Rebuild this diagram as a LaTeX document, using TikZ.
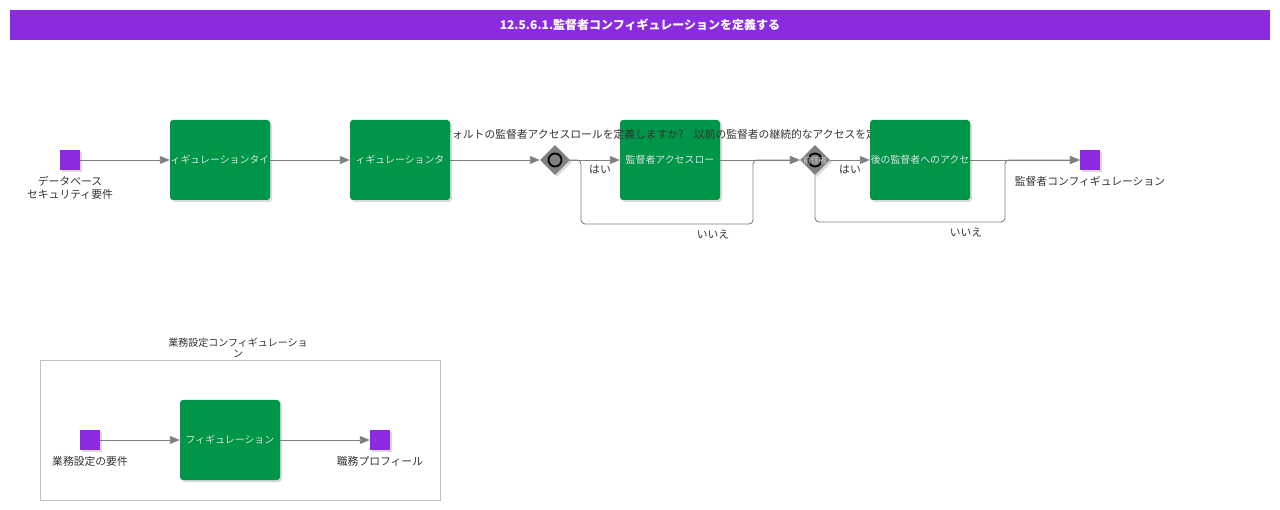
\documentclass[tikz,border=0pt]{standalone}
\usepackage{fontspec}
\setmainfont{Noto Sans CJK JP}
\usetikzlibrary{shapes.geometric,arrows.meta,shadows}

\definecolor{evpurple}{RGB}{138,43,226}
\definecolor{taskgreen}{RGB}{0,150,73}
\definecolor{flowgrey}{RGB}{128,128,128}
\definecolor{labelgrey}{RGB}{51,51,51}

\tikzset{
	boxshadow/.style={drop shadow={shadow xshift=2pt, shadow yshift=-2pt, opacity=0.3}},
	task/.style={rectangle, rounded corners=3pt, fill=taskgreen, minimum width=100pt, minimum height=80pt, inner sep=0pt, text=white!88!black, font=\fontsize{9.9}{12}\selectfont, boxshadow},
	event/.style={rectangle, fill=evpurple, minimum size=20pt, inner sep=0pt, boxshadow},
	gateway/.style={diamond, fill=flowgrey, minimum width=30pt, minimum height=30pt, inner sep=0pt, boxshadow},
	lbl/.style={text=labelgrey, inner sep=0pt, align=center, font=\fontsize{10.8}{13}\selectfont},
	flow/.style={draw=flowgrey, line width=0.9pt, rounded corners=4pt, -{Triangle[length=10pt,width=8pt]}},
}

\begin{document}
\begin{tikzpicture}[x=1pt, y=-1pt]
			%%%%% START %%%%%
			\useasboundingbox (0,0) rectangle (1280,510);
			
			\node[fill=evpurple, minimum width=1260pt, minimum height=30pt, inner sep=0pt, text=white, font=\bfseries\fontsize{12}{14}\selectfont] (title) at (640,25) {12.5.6.1.監督者コンフィギュレーションを定義する};
			
			\node[event] (start) at (70,160) {};
			\node[lbl] (startlbl) at (70,188) {データベース\\セキュリティ要件};
			
			\node[task] (t1) at (220,160) {ィギュレーションタイ};
			\node[task] (t3) at (670,160) {監督者アクセスロー};
			
			\node[lbl] (q1) at (557,134) {デフォルトの監督者アクセスロールを定義しますか?};
			\node[lbl] (q2) at (815,134) {以前の監督者の継続的なアクセスを定義しますか?};
			
			\node[task] (t2) at (400,160) {ィギュレーションタ};
			\node[task] (t4) at (920,160) {後の監督者へのアクセ};
			
			\node[gateway] (gw1) at (555,160) {};
			\draw[line width=1.8pt] (gw1) circle (6.5);
			\node[gateway] (gw2) at (815,160) {};
			\draw[line width=1.8pt] (gw2) circle (6.5);
			\node[text=white!80!black, inner sep=0pt, font=\fontsize{8}{9}\selectfont] (gw2txt) at (gw2) {前任者};
			
			\node[event] (end) at (1090,160) {};
			\node[lbl] (endlbl) at (1090,181) {監督者コンフィギュレーション};
			
			\draw[flow] (start) -- (t1);
			\draw[flow] (t1) -- (t2);
			\draw[flow] (t2) -- (gw1);
			\draw[flow] (gw1) -- (t3);
			\draw[flow] (gw1.east) -- (581,160) -- (581,224) -- (753,224) -- (753,160) -- (gw2.west);
			\draw[flow] (t3) -- (gw2);
			\draw[flow] (gw2) -- (t4);
			\draw[flow] (gw2.south) -- (815,222) -- (1005,222) -- (1005,160) -- (end.west);
			\draw[flow] (t4) -- (end);
			
			\node[lbl] (yes1) at (600,170) {はい};
			\node[lbl] (no1) at (713,234) {いいえ};
			\node[lbl] (yes2) at (850,170) {はい};
			\node[lbl] (no2) at (966,232) {いいえ};
			
			%%%%% GROUP %%%%%
			\node[draw=black!25, minimum width=400pt, minimum height=140pt, inner sep=0pt] (grp) at (240,430) {};
			\node[lbl, font=\fontsize{10}{11}\selectfont] (grplbl) at (238,348) {業務設定コンフィギュレーショ\\ン};
			
			\node[event] (bstart) at (90,440) {};
			\node[lbl] (bstartlbl) at (90,461) {業務設定の要件};
			\node[task] (bt) at (230,440) {フィギュレーション};
			\node[event] (bend) at (380,440) {};
			\node[lbl] (bendlbl) at (380,461) {職務プロフィール};
			
			\draw[flow] (bstart) -- (bt);
			\draw[flow] (bt) -- (bend);
			
			%%%%% END %%%%%
\end{tikzpicture}
\end{document}
